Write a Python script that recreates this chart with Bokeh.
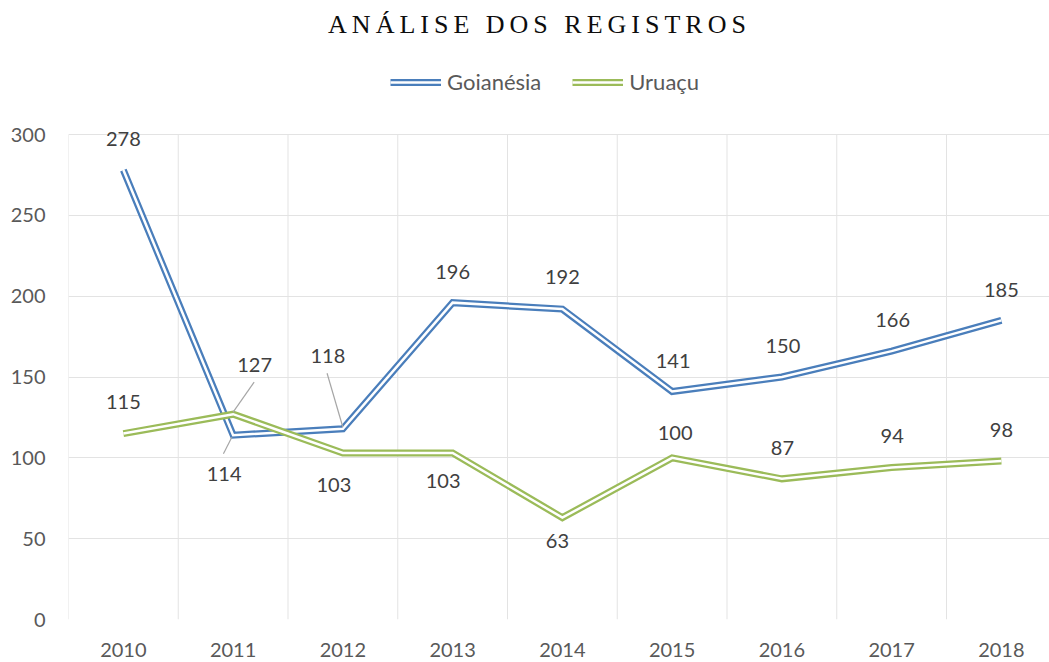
from bokeh.plotting import figure
from bokeh.models import (ColumnDataSource, Range1d, FixedTicker, Legend,
                          LegendItem, Div)
from bokeh.layouts import column
from bokeh.embed import file_html
from bokeh.resources import INLINE
from bokeh.core.properties import value

# ---------------- data ----------------
years = ["2010", "2011", "2012", "2013", "2014", "2015", "2016", "2017", "2018"]
goianesia = [278, 114, 118, 196, 192, 141, 150, 166, 185]
uruacu = [115, 127, 103, 103, 63, 100, 87, 94, 98]
y_ticks = [0, 50, 100, 150, 200, 250, 300]
title_text = "ANÁLISE DOS REGISTROS"
series_names = ["Goianésia", "Uruaçu"]

# ---------------- style ----------------
BLUE = "#4a7ebb"
GREEN = "#9bbb59"
GRID = "#e3e3e3"
FONT = "Lato"

# data-label offsets in screen pixels (relative to each point)
goi_dx = [0, -9, -15, 0, 0, 1, 1, 1, 0]
goi_dy = [-31, 39, -72.5, -31, -32, -31, -31.5, -31, -30]
uru_dx = [0, 21.5, -9, -9.5, -5, 3, 0.5, 0.5, 0]
uru_dy = [-31.5, -49, 32.5, 28, 23, -25, -31, -31.5, -31]

W = 1049
DIV_H = 46
FIG_H = 662 - DIV_H
BORDER_L = 68
BORDER_B = 43
FRAME_W = W - BORDER_L
FRAME_H = FIG_H - BORDER_B           # frame spans up to the top of the figure
PX_X = 109.75                        # pixels per category
PX_Y = 485 / 300.0                   # pixels per unit
X_END = -0.5 + FRAME_W / PX_X
Y_TOP = FRAME_H / PX_Y
Y_MAX = y_ticks[-1]

xs = list(range(len(years)))

title_div = Div(
    text=('<div style="display:block; width:%dpx; box-sizing:border-box; '
          'text-align:center; padding-left:30px; padding-top:10px; '
          'font-family:\'Liberation Serif\', serif; font-size:26px; line-height:30px; '
          'letter-spacing:5px; color:#0d0d0d; white-space:nowrap;">' % W
          + title_text + '</div>'),
    width=W, height=DIV_H, margin=0)

p = figure(width=W, height=FIG_H, output_backend="svg", toolbar_location=None,
           x_range=Range1d(-0.5, X_END), y_range=Range1d(0, Y_TOP),
           min_border_left=BORDER_L, min_border_right=0, min_border_top=0,
           min_border_bottom=BORDER_B)
p.outline_line_color = None
p.background_fill_color = "white"
p.border_fill_color = "white"

# axes
p.xaxis.ticker = FixedTicker(ticks=xs)
p.xaxis.major_label_overrides = {i: y for i, y in enumerate(years)}
p.yaxis.ticker = FixedTicker(ticks=y_ticks)
for ax in (p.xaxis[0], p.yaxis[0]):
    ax.axis_line_color = None
    ax.major_tick_line_color = None
    ax.minor_tick_line_color = None
    ax.major_tick_out = 0
    ax.major_tick_in = 0
    ax.major_label_text_font = FONT
    ax.major_label_text_font_size = "20px"
    ax.major_label_text_color = "#595959"
p.xaxis.major_label_standoff = 23
p.yaxis.major_label_standoff = 23

# grids: horizontal from the grid, vertical category separators only up to the top tick
p.xgrid.visible = False
p.ygrid.ticker = FixedTicker(ticks=y_ticks)
p.ygrid.grid_line_color = GRID
p.ygrid.grid_line_width = 1
sep = [i - 0.5 for i in range(len(years) + 1)]
p.segment(x0=sep, y0=[0] * len(sep), x1=sep, y1=[Y_MAX] * len(sep),
          line_color=GRID, line_width=1)

# double lines: coloured thick stroke + white inner stroke
g1 = p.line(xs, goianesia, line_color=BLUE, line_width=7, line_join="miter")
g2 = p.line(xs, goianesia, line_color="white", line_width=2.5, line_join="miter")
u1 = p.line(xs, uruacu, line_color=GREEN, line_width=7, line_join="miter")
u2 = p.line(xs, uruacu, line_color="white", line_width=2.5, line_join="miter")

# leader lines (point index, series, start offset px, end offset px)
leaders = [
    (1, goianesia, (-1.3, 2), (-9.7, 18.6)),
    (1, uruacu, (0, -2), (21, -32)),
    (2, goianesia, (0, -1.5), (-15.8, -55.5)),
]
lx0, ly0, lx1, ly1 = [], [], [], []
for i, ser, (sdx, sdy), (edx, edy) in leaders:
    lx0.append(i + sdx / PX_X)
    ly0.append(ser[i] - sdy / PX_Y)
    lx1.append(i + edx / PX_X)
    ly1.append(ser[i] - edy / PX_Y)
p.segment(lx0, ly0, lx1, ly1, line_color="#a6a6a6", line_width=1.2)

# data labels
for ser, dx, dy in ((goianesia, goi_dx, goi_dy), (uruacu, uru_dx, uru_dy)):
    src = ColumnDataSource(dict(x=xs, y=ser, t=[str(v) for v in ser], dx=dx, dy=dy))
    p.text(x="x", y="y", text="t", x_offset="dx", y_offset="dy", source=src,
           text_align="center", text_baseline="middle",
           text_font=value(FONT), text_font_size="20px", text_color="#404040")

# legend (inside the frame, above the plotting area); bottom edge at page y 95
legend = Legend(
    items=[LegendItem(label=series_names[0], renderers=[g1, g2]),
           LegendItem(label=series_names[1], renderers=[u1, u2])],
    location=(390 - BORDER_L, FRAME_H - (95 - DIV_H)), orientation="horizontal",
    glyph_width=51, glyph_height=20, label_standoff=6, spacing=31,
    padding=0, margin=0, border_line_color=None, background_fill_alpha=0,
    label_text_font=FONT, label_text_font_size="22px",
    label_text_color="#595959", label_height=20)
p.add_layout(legend, "center")

layout = column(title_div, p, spacing=0)
open("out.html", "w").write(file_html(layout, INLINE))
